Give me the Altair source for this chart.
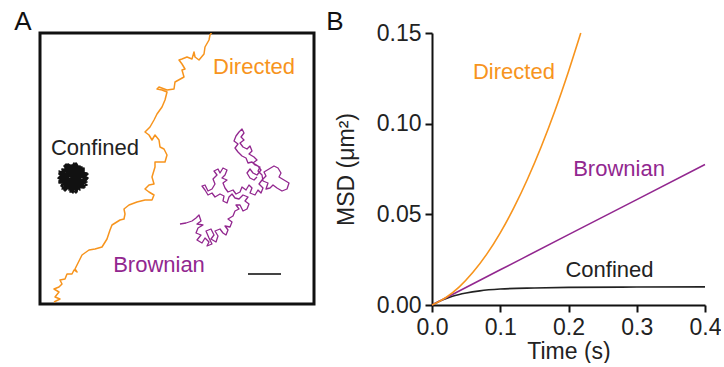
import altair as alt
import pandas as pd

# ---------------- Panel A : trajectories (picture coordinates, arbitrary units) ----------------
directed_x = [52, 58, 53, 57, 52, 57, 60, 58, 63, 65, 70, 72, 75, 73, 80, 87, 93, 100, 105, 108,
              110, 118, 122, 123, 122, 127, 135, 143, 150, 152, 147, 143, 147, 152, 150, 153, 153,
              163, 165, 162, 158, 157, 153, 150, 147, 143, 148, 152, 155, 160, 163, 165, 160, 155,
              157, 165, 172, 173, 182, 180, 183, 180, 177, 180, 185, 190, 192, 193, 197, 202, 203,
              207, 208, 210, 213]
directed_y = [300, 297, 295, 290, 287, 285, 282, 278, 277, 272, 272, 268, 270, 267, 253, 248, 247,
              245, 237, 228, 223, 218, 217, 212, 207, 203, 200, 198, 198, 193, 190, 187, 183, 182,
              175, 165, 160, 160, 153, 147, 145, 138, 133, 138, 133, 130, 125, 118, 112, 105, 98,
              90, 88, 87, 85, 88, 87, 80, 75, 68, 67, 62, 58, 57, 55, 57, 50, 55, 58, 52, 45, 38,
              33, 30, 26]

confined_x = [86, 77, 69, 66, 57, 67, 78, 75, 82, 71, 60, 65, 63, 75, 83, 74, 74, 65, 57, 67, 74,
              80, 83, 72, 63, 62, 60, 71, 82, 82, 77, 70, 57, 61, 69, 74, 86,
              82, 72, 62, 63, 62, 72, 82, 74, 76, 69, 57, 64, 70, 78, 85, 73,
              71, 82, 63, 85, 59, 75, 78, 57, 80, 66, 83, 62, 74, 60, 85, 67, 79, 57, 76, 63, 86,
              64, 72, 59, 82, 68, 83, 57, 78, 67, 80, 60, 71, 75, 62, 85, 66, 79, 56, 74, 80, 63,
              83, 64, 76, 60, 85, 68, 78, 57, 75, 62, 86, 70, 66, 82, 59, 74, 71]
confined_y = [176, 183, 190, 179, 171, 166, 165, 175, 186, 185, 185, 175, 163, 166, 172, 178, 191,
              183, 176, 171, 161, 170, 180, 180, 189, 178, 167, 170, 166, 178, 187, 180, 181, 170,
              163, 173, 176,
              181, 181, 188, 177, 167, 166, 168, 177, 187, 180, 180, 171, 163, 169, 177, 178,
              176, 169, 185, 180, 171, 190, 164, 179, 185, 162, 173, 187, 168, 167, 183, 188, 165,
              175, 187, 164, 176, 183, 161, 184, 167, 190, 181, 169, 188, 165, 172, 180, 191, 162,
              168, 171, 185, 179, 176, 187, 165, 177, 185, 162, 172, 187, 177, 169, 188, 172, 181,
              164, 172, 187, 173, 184, 181, 164, 176]

brownian_x = [178, 184, 190, 194, 197, 199, 195, 201, 196, 194, 199, 195, 200, 203, 207, 205, 210,
              207, 204, 209, 212, 209, 214, 216, 213, 218, 221, 224, 226, 223, 228, 230, 226, 231,
              233, 237, 234, 238, 241, 245, 247, 243, 246, 241, 237, 233, 230, 227, 225, 221, 222,
              218, 213, 210, 206, 203, 200, 203, 206, 210, 213, 211, 215, 212, 216, 218, 221, 225,
              223, 220, 225, 221, 223, 226, 231, 234, 238, 240, 244, 247, 250, 248, 253, 256, 259,
              261, 257, 260, 264, 262, 267, 272, 276, 279, 277, 282, 287, 285, 280, 275, 271, 268,
              264, 266, 261, 260, 256, 258, 253, 250, 246, 244, 240, 236, 233, 236, 232, 234, 237,
              240, 242, 239, 242, 238, 241, 245, 248, 250, 247, 252, 255, 251, 256, 259, 255, 251,
              248, 245, 248, 252, 255]
brownian_y = [222, 221, 219, 216, 213, 219, 222, 223, 226, 231, 233, 238, 241, 236, 240, 244, 242,
              236, 229, 227, 233, 237, 240, 234, 229, 227, 231, 233, 228, 224, 225, 220, 217, 214,
              209, 207, 203, 203, 209, 207, 202, 199, 195, 193, 197, 196, 192, 195, 201, 199, 194,
              192, 195, 191, 193, 188, 184, 183, 189, 187, 182, 177, 173, 169, 167, 171, 166, 168,
              173, 176, 178, 181, 186, 190, 188, 192, 190, 185, 188, 183, 186, 191, 193, 188, 191,
              186, 182, 178, 174, 170, 167, 164, 166, 171, 175, 178, 181, 187, 189, 186, 183, 186,
              187, 181, 179, 173, 169, 165, 163, 160, 161, 156, 154, 150, 146, 142, 139, 134, 130,
              127, 131, 135, 138, 141, 145, 147, 144, 149, 152, 155, 158, 161, 164, 168, 173, 171,
              167, 171, 176, 178, 175]

scalebar_x = [246]
scalebar_x2 = [279]
scalebar_y = [272]

labels_a_text = ["Directed", "Confined", "Brownian"]
labels_a_x = [252, 93, 157]
labels_a_y = [72, 153, 270]
labels_a_color = ["#F7941D", "#222222", "#92278F"]

# ---------------- Panel B : MSD curves ----------------
directed_t = [0, 0.02, 0.04, 0.06, 0.08, 0.10, 0.12, 0.14, 0.16, 0.18, 0.20, 0.218]
directed_msd = [0, 0.0040, 0.0100, 0.0180, 0.0279, 0.0398, 0.0537, 0.0695, 0.0873, 0.1070,
                0.1288, 0.1500]

brownian_t = [0, 0.1, 0.2, 0.3, 0.4]
brownian_msd = [0, 0.0194, 0.0388, 0.0581, 0.0775]

confined_t = [0, 0.01, 0.02, 0.03, 0.05, 0.07, 0.10, 0.15, 0.20, 0.30, 0.40]
confined_msd = [0, 0.0019, 0.0035, 0.0048, 0.0066, 0.0078, 0.0088, 0.0094, 0.0097, 0.0099, 0.0100]

labels_b_text = ["Directed", "Brownian", "Confined"]
labels_b_t = [0.120, 0.274, 0.260]
labels_b_msd = [0.1246, 0.0711, 0.0154]
labels_b_color = ["#F7941D", "#92278F", "#222222"]

ORANGE = "#F7941D"
PURPLE = "#92278F"
FONT = "Liberation Sans"


def traj_df(xs, ys):
    return pd.DataFrame({"x": xs, "y": ys, "i": list(range(len(xs)))})


one = pd.DataFrame({"a": [0]})

xa = alt.X("x:Q", scale=alt.Scale(domain=[38, 312], nice=False, zero=False), axis=None)
ya = alt.Y("y:Q", scale=alt.Scale(domain=[31, 302], reverse=True, nice=False, zero=False), axis=None)

dir_line = alt.Chart(traj_df(directed_x, directed_y)).mark_line(
    color=ORANGE, strokeWidth=1.5, clip=True, strokeJoin="round"
).encode(x=xa, y=ya, order="i:Q")

conf_line = alt.Chart(traj_df(confined_x, confined_y)).mark_line(
    color="#111111", strokeWidth=1.6, strokeJoin="round"
).encode(x=xa, y=ya, order="i:Q")

brown_line = alt.Chart(traj_df(brownian_x, brownian_y)).mark_line(
    color=PURPLE, strokeWidth=1.3, strokeJoin="round"
).encode(x=xa, y=ya, order="i:Q")

bar = alt.Chart(pd.DataFrame({"x": scalebar_x, "x2": scalebar_x2, "y": scalebar_y})).mark_rule(
    color="#444444", strokeWidth=2
).encode(x=xa, x2="x2:Q", y=ya)

lab_a = alt.Chart(pd.DataFrame({"t": labels_a_text, "x": labels_a_x, "y": labels_a_y,
                                "c": labels_a_color})).mark_text(
    fontSize=22, align="center", baseline="alphabetic", font=FONT
).encode(x=xa, y=ya, text="t:N", color=alt.Color("c:N", scale=None))

letter_a = alt.Chart(one).mark_text(
    fontSize=26, align="center", baseline="alphabetic", font=FONT, color="#111111"
).encode(x=alt.value(-17), y=alt.value(-3), text=alt.value("A"), size=alt.value(26))

anchor = alt.Chart(one).mark_rule(opacity=0).encode(
    x=alt.value(-38), x2=alt.value(-37), y=alt.value(-31), y2=alt.value(-31)
)

panel_a = alt.layer(anchor, dir_line, brown_line, conf_line, bar, lab_a, letter_a).properties(
    width=274, height=271,
    view=alt.ViewBackground(stroke="#111111", strokeWidth=3),
)

xb = alt.X("t:Q", scale=alt.Scale(domain=[0, 0.4], nice=False),
           axis=alt.Axis(values=[0, 0.1, 0.2, 0.3, 0.4], format=".1f", title="Time (s)",
                         labelFlush=False, titlePadding=1))
yb = alt.Y("msd:Q", scale=alt.Scale(domain=[0, 0.15], nice=False),
           axis=alt.Axis(values=[0, 0.05, 0.1, 0.15], format=".2f", title="MSD (μm²)",
                         labelFlush=False, titlePadding=18))


def curve(ts, ms, color):
    return alt.Chart(pd.DataFrame({"t": ts, "msd": ms})).mark_line(
        color=color, strokeWidth=1.6, interpolate="monotone"
    ).encode(x=xb, y=yb)


lab_b = alt.Chart(pd.DataFrame({"lt": labels_b_text, "t": labels_b_t, "msd": labels_b_msd,
                                "c": labels_b_color})).mark_text(
    fontSize=22, align="center", baseline="alphabetic", font=FONT
).encode(x=xb, y=yb, text="lt:N", color=alt.Color("c:N", scale=None))

letter_b = alt.Chart(one).mark_text(
    fontSize=26, align="center", baseline="alphabetic", font=FONT, color="#111111"
).encode(x=alt.value(-97), y=alt.value(-3), text=alt.value("B"), size=alt.value(26))

panel_b = alt.layer(
    curve(confined_t, confined_msd, "#222222"),
    curve(brownian_t, brownian_msd, PURPLE),
    curve(directed_t, directed_msd, ORANGE),
    lab_b, letter_b,
).properties(width=273, height=272, view=alt.ViewBackground(strokeWidth=0))

chart = alt.hconcat(panel_a, panel_b, spacing=118, bounds="flush").properties(
    padding=0
).configure(font=FONT).configure_axis(
    grid=False, domainColor="#111111", domainWidth=2, tickColor="#111111", tickWidth=2,
    tickSize=7, labelFontSize=23, labelColor="#222222", labelPadding=4, labelFont=FONT,
    titleFontSize=23, titleFontWeight="normal", titleColor="#222222", titleFont=FONT,
)

chart.save("out.html", embed_options={"renderer": "svg", "actions": False})
